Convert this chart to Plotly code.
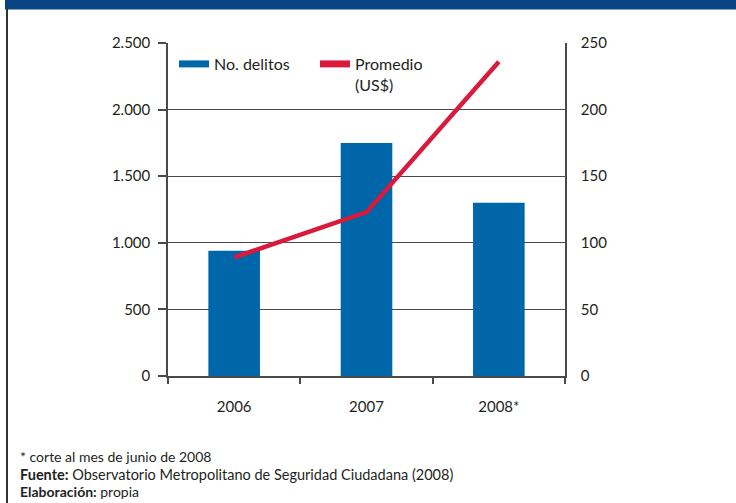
import plotly.graph_objects as go

years = ["2006", "2007", "2008*"]
delitos = [940, 1750, 1300]
promedio = [89, 123, 236]

W, H = 736, 503
L, R, T, B = 168, 171, 43, 127
pw, ph = W - L - R, H - T - B

def px(x):
    return (x - L) / pw

def py(y):
    return (H - B - y) / ph

FONT = "Lato"
TXT = "#231f20"
BLUE = "#0066aa"
RED = "#d91a3c"
AX = "#4a4a4a"

fig = go.Figure()
fig.add_trace(go.Bar(x=years, y=delitos, marker=dict(color=BLUE, line=dict(width=0)),
                     width=0.39, showlegend=False, yaxis="y"))
fig.add_trace(go.Scatter(x=years, y=promedio, mode="lines", line=dict(color=RED, width=4.5),
                         showlegend=False, yaxis="y2"))
# legend-only entries
fig.add_trace(go.Scatter(x=[None], y=[None], mode="lines", name="No. delitos",
                         line=dict(color=BLUE, width=7)))
fig.add_trace(go.Scatter(x=[None], y=[None], mode="lines", name="Promedio<br>(US$)",
                         line=dict(color=RED, width=7)))

fig.update_layout(
    width=W, height=H,
    margin=dict(l=L, r=R, t=T, b=B, pad=0),
    paper_bgcolor="white", plot_bgcolor="white",
    separators=",.",
    font=dict(family=FONT, size=15, color=TXT),
    xaxis=dict(type="category", showline=True, linecolor=AX, linewidth=1.5,
               ticks="outside", ticklen=6, tickcolor=AX, tickwidth=1.5,
               tickson="boundaries", showgrid=False, ticklabelstandoff=16,
               tickfont=dict(size=15, color=TXT)),
    yaxis=dict(range=[0, 2500], dtick=500, tickformat=",d", showline=True,
               linecolor=AX, linewidth=1.5, ticks="outside", ticklen=8,
               tickcolor=AX, tickwidth=1.5, showgrid=True, gridcolor=AX,
               gridwidth=1, zeroline=False, ticklabelstandoff=5,
               tickfont=dict(size=15, color=TXT)),
    yaxis2=dict(range=[0, 250], dtick=50, overlaying="y", side="right",
                showline=True, linecolor=AX, linewidth=1.5, ticks="",
                showgrid=False, zeroline=False, ticklabelstandoff=11,
                tickfont=dict(size=15, color=TXT)),
    legend=dict(orientation="h", x=px(174), y=py(47), xanchor="left", yanchor="top",
                bgcolor="rgba(0,0,0,0)", font=dict(size=16, color=TXT),
                itemwidth=30, tracegroupgap=0, valign="top",
                entrywidth=96, entrywidthmode="pixels"),
    shapes=[
        dict(type="rect", xref="paper", yref="paper", x0=px(5), x1=px(736),
             y0=py(9.5), y1=py(0), fillcolor="#0a4381", line=dict(width=0), layer="above"),
        dict(type="line", xref="paper", yref="paper", x0=px(7), x1=px(7),
             y0=py(9), y1=py(503), line=dict(color="#333333", width=2)),
    ],
    annotations=[
        dict(xref="paper", yref="paper", x=px(18), y=py(456.5), xanchor="left", yanchor="middle",
             text="* corte al mes de junio de 2008", showarrow=False,
             font=dict(size=14, color=TXT)),
        dict(xref="paper", yref="paper", x=px(18), y=py(474), xanchor="left", yanchor="middle",
             text="<b>Fuente:</b> Observatorio Metropolitano de Seguridad Ciudadana (2008)",
             showarrow=False, font=dict(size=14.5, color=TXT)),
        dict(xref="paper", yref="paper", x=px(18), y=py(491.5), xanchor="left", yanchor="middle",
             text="<b>Elaboración:</b> propia", showarrow=False,
             font=dict(size=14, color=TXT)),
    ],
)

fig.write_html("out.html", config={"displayModeBar": False},
               post_script="document.body.style.margin='0';document.body.style.overflow='hidden';")
